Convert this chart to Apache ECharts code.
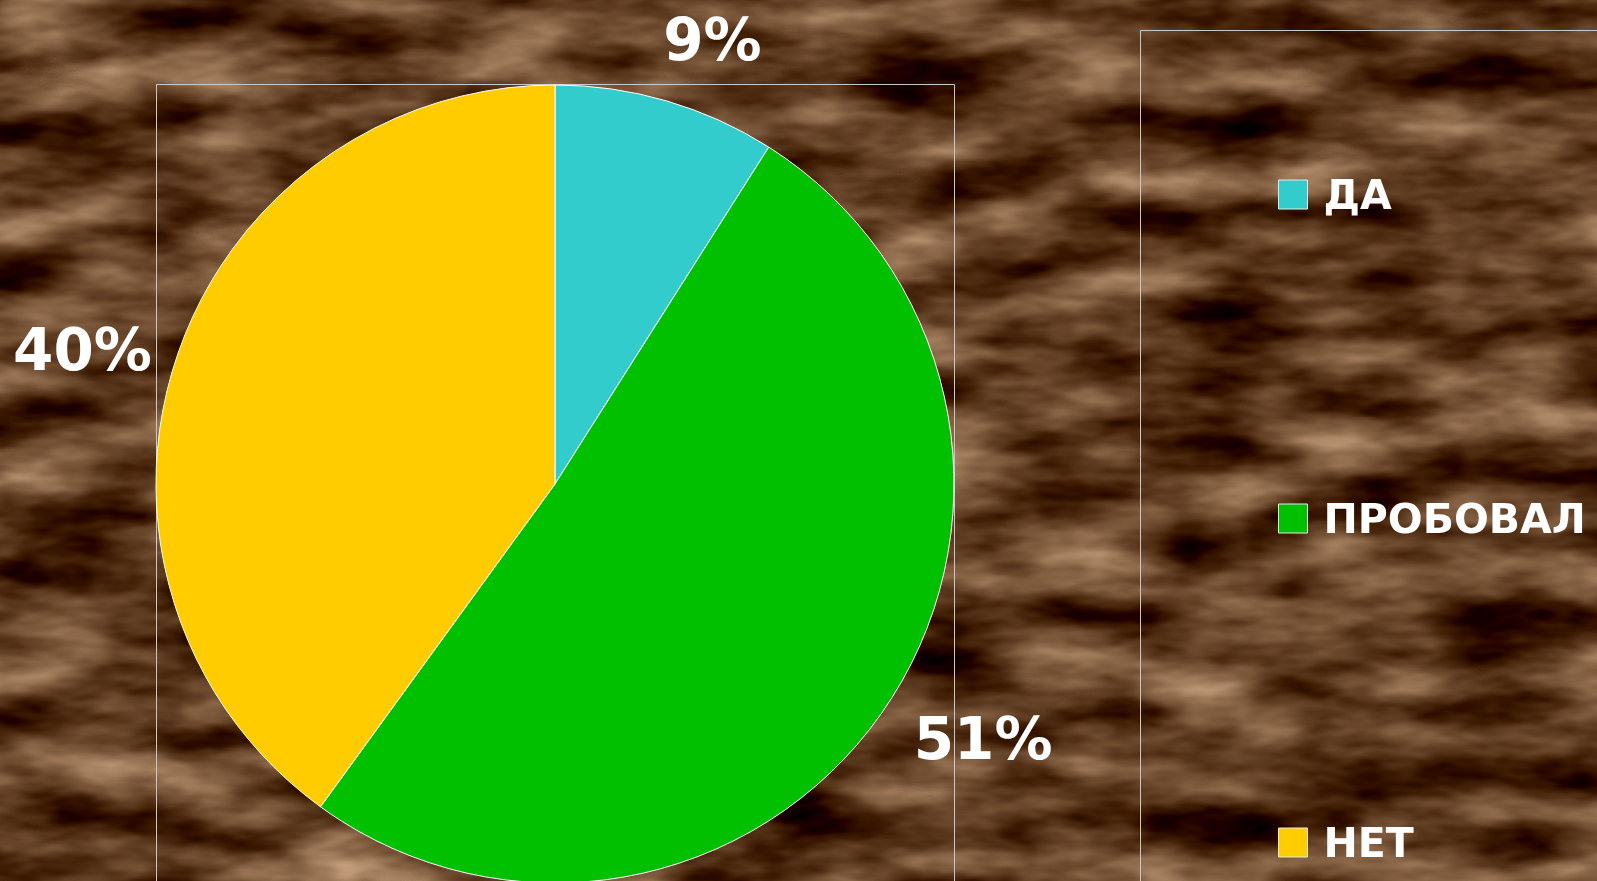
<!DOCTYPE html>
<html>
<head>
<meta charset="utf-8">
<script src="https://cdn.jsdelivr.net/npm/echarts@6/dist/echarts.min.js"></script>
<style>
  html, body { margin: 0; padding: 0; width: 1597px; height: 881px; overflow: hidden; background: #4a3220; }
  #bg { position: absolute; left: 0; top: 0; width: 1597px; height: 881px; }
  #chart { position: absolute; left: 0; top: 0; width: 1597px; height: 881px; }
</style>
</head>
<body>
<!-- mottled brown backdrop -->
<svg id="bg" xmlns="http://www.w3.org/2000/svg" width="1597" height="881">
  <filter id="grain" x="0" y="0" width="100%" height="100%" color-interpolation-filters="sRGB">
    <feTurbulence type="fractalNoise" baseFrequency="0.007 0.02" numOctaves="4" seed="11" result="n"/>
    <feColorMatrix in="n" type="matrix"
      values="0.95 0 0 0 -0.11
              0.92 0 0 0 -0.23
              0.85 0 0 0 -0.30
              0 0 0 0 1"/>
  </filter>
  <rect width="1597" height="881" filter="url(#grain)"/>
</svg>
<div id="chart"></div>
<script>
// Answers to the question, in drawing order (clockwise from 12 o'clock)
const categories = ['ДА', 'ПРОБОВАЛ', 'НЕТ'];
const shares = [9, 51, 40];
const colors = ['#33CCCC', '#00C000', '#FFCC00'];
// distance of each percentage label from the rim
const labelDistance = [57, 42, 27];

const chart = echarts.init(document.getElementById('chart'), null, { renderer: 'canvas' });

const font = 'DejaVu Sans, Verdana, sans-serif';

// small hand adjustments of the percentage labels (dx, dy)
const labelShift = { 0: [-19, -1], 1: [-6, 12], 2: [2, 3] };

chart.setOption({
  backgroundColor: 'transparent',
  animation: false,
  color: colors,
  graphic: [{
    // plot-area frame
    type: 'rect',
    silent: true,
    z: -1,
    shape: { x: 156.5, y: 84.5, width: 798, height: 900 },
    style: { fill: 'none', stroke: '#c8c8c8', lineWidth: 1 }
  }, {
    // legend frame
    type: 'rect',
    silent: true,
    z: -1,
    shape: { x: 1140.5, y: 30.5, width: 600, height: 900 },
    style: { fill: 'none', stroke: '#c8c8c8', lineWidth: 1 }
  }],
  legend: {
    orient: 'vertical',
    left: 1278,
    top: 170,
    padding: 0,
    itemGap: 275,
    itemWidth: 29,
    itemHeight: 29,
    icon: 'rect',
    itemStyle: { borderColor: '#e8e8e8', borderWidth: 1 },
    formatter: '{t|{name}}',
    textStyle: {
      color: '#ffffff',
      fontSize: 41,
      fontWeight: 'bold',
      fontFamily: font,
      padding: [0, 0, 0, 11],
      rich: {
        t: {
          color: '#ffffff',
          fontSize: 41,
          fontWeight: 'bold',
          fontFamily: font,
          lineHeight: 40,
          padding: [8, 0, 0, 0]
        }
      }
    },
    data: categories
  },
  series: [{
    type: 'pie',
    center: [555, 484],
    radius: 399,
    startAngle: 90,
    clockwise: true,
    avoidLabelOverlap: false,
    itemStyle: { borderColor: '#ffffff', borderWidth: 1 },
    label: {
      show: true,
      position: 'outside',
      formatter: '{c}%',
      color: '#ffffff',
      fontSize: 58,
      fontWeight: 'bold',
      fontFamily: font,
      distanceToLabelLine: 0
    },
    labelLine: { show: false, length2: 0 },
    labelLayout: function (p) {
      const s = labelShift[p.dataIndex] || [0, 0];
      return { dx: s[0], dy: s[1] };
    },
    emphasis: { disabled: true },
    data: categories.map((name, i) => ({
      name: name,
      value: shares[i],
      labelLine: { show: false, length: labelDistance[i], length2: 0 }
    }))
  }]
});
</script>
</body>
</html>
